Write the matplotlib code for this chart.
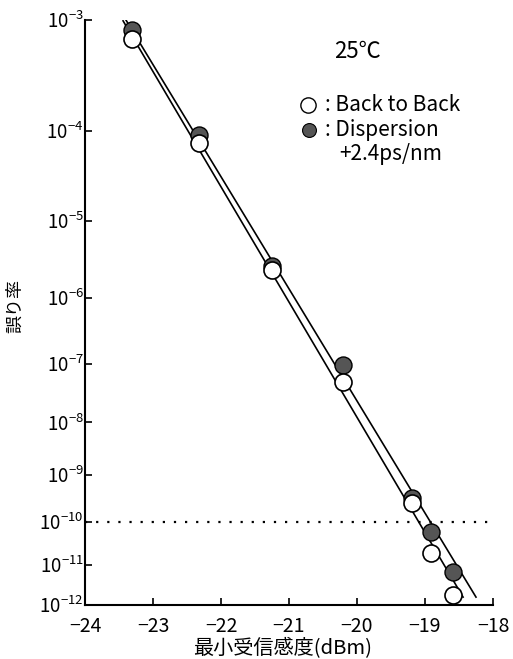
import numpy as np
import matplotlib
matplotlib.use('Agg')
import matplotlib.pyplot as plt

plt.rcParams['font.family'] = ['Noto Sans CJK JP', 'DejaVu Sans']
plt.rcParams['mathtext.fontset'] = 'custom'
plt.rcParams['mathtext.rm'] = 'Noto Sans CJK JP'
plt.rcParams['mathtext.it'] = 'Noto Sans CJK JP'
plt.rcParams['mathtext.bf'] = 'Noto Sans CJK JP'

# measured points (received power dBm, bit error rate)
b2b_x = [-23.31, -22.32, -21.25, -20.21, -19.19, -18.91, -18.59]
b2b_ber = [7.0e-4, 7.4e-5, 2.4e-6, 5.0e-8, 2.6e-10, 2.0e-11, 1.8e-12]
disp_x = [-23.31, -22.32, -21.25, -20.21, -19.19, -18.91, -18.59]
disp_ber = [8.3e-4, 9.0e-5, 2.7e-6, 9.5e-8, 3.3e-10, 6.0e-11, 6.7e-12]

# fitted lines drawn on the chart (end points)
b2b_fit_x = [-23.44, -18.44]
b2b_fit_ber = [9.8e-4, 1.6e-12]
disp_fit_x = [-23.40, -18.25]
disp_fit_ber = [1.0e-3, 1.6e-12]

ref_ber = 1e-10
exps = [3, 4, 5, 6, 7, 8, 9, 10, 11, 12]
xticks = [-24, -23, -22, -21, -20, -19, -18]


# BER paper: roughly log(-log(BER)) spacing
def fwd(y):
    y = np.clip(np.asarray(y, dtype=float), 1e-300, 0.999)
    return -np.log10(1.0 - np.log10(y))


def inv(f):
    f = np.asarray(f, dtype=float)
    return 10.0 ** (1.0 - 10.0 ** (-f))


fig = plt.figure(figsize=(5.13, 6.59), dpi=100)
ax = fig.add_axes([0.1657, 0.082, 0.7953, 0.888])
ax.set_yscale('function', functions=(fwd, inv))

ax.plot(b2b_fit_x, b2b_fit_ber, color='black', lw=1.2, zorder=2)
ax.plot(disp_fit_x, disp_fit_ber, color='black', lw=1.2, zorder=2)
ax.axhline(ref_ber, color='black', ls=(0, (1, 4)), lw=1.6, zorder=1)

ax.scatter(disp_x, disp_ber, s=150, facecolor='#555555', edgecolor='black',
           linewidth=1.0, zorder=3)
ax.scatter(b2b_x, b2b_ber, s=150, facecolor='white', edgecolor='black',
           linewidth=1.2, zorder=4)

ax.set_xlim(-24, -18)
ax.set_ylim(1e-12, 1e-3)
ax.set_xticks(xticks)
ax.set_xticklabels(['\u2212%d' % abs(v) for v in xticks])
ax.set_yticks([10.0 ** -e for e in exps])
ax.set_yticklabels(['$10^{\u2212%d}$' % e for e in exps])
ax.minorticks_off()
ax.tick_params(direction='in', length=5, width=1.2, colors='black')
ax.tick_params(axis='x', labelsize=14, pad=8)
ax.tick_params(axis='y', labelsize=13.5, pad=1)
for s in ['top', 'right']:
    ax.spines[s].set_visible(False)
for s in ['left', 'bottom']:
    ax.spines[s].set_linewidth(1.5)

ax.set_xlabel('最小受信感度(dBm)', fontsize=14.5, va='center')
ax.xaxis.set_label_coords(0.483, -0.074)
ax.set_ylabel('誤り率', fontsize=13, va='center')
ax.yaxis.set_label_coords(-0.172, 0.511)

# annotations / legend
ax.text(0.667, 0.945, '25℃', transform=ax.transAxes, fontsize=16,
        ha='center', va='center')
ax.plot([0.547], [0.855], marker='o', ms=11, mfc='white', mec='black',
        mew=1.0, transform=ax.transAxes, clip_on=False)
ax.plot([0.549], [0.812], marker='o', ms=10, mfc='#555555', mec='black',
        mew=0.8, transform=ax.transAxes, clip_on=False)
ax.text(0.588, 0.855, ': Back to Back', transform=ax.transAxes,
        fontsize=15, ha='left', va='center')
ax.text(0.588, 0.812, ': Dispersion', transform=ax.transAxes,
        fontsize=15, ha='left', va='center')
ax.text(0.623, 0.771, '+2.4ps/nm', transform=ax.transAxes,
        fontsize=15, ha='left', va='center')

fig.savefig('out.png', dpi=100)
